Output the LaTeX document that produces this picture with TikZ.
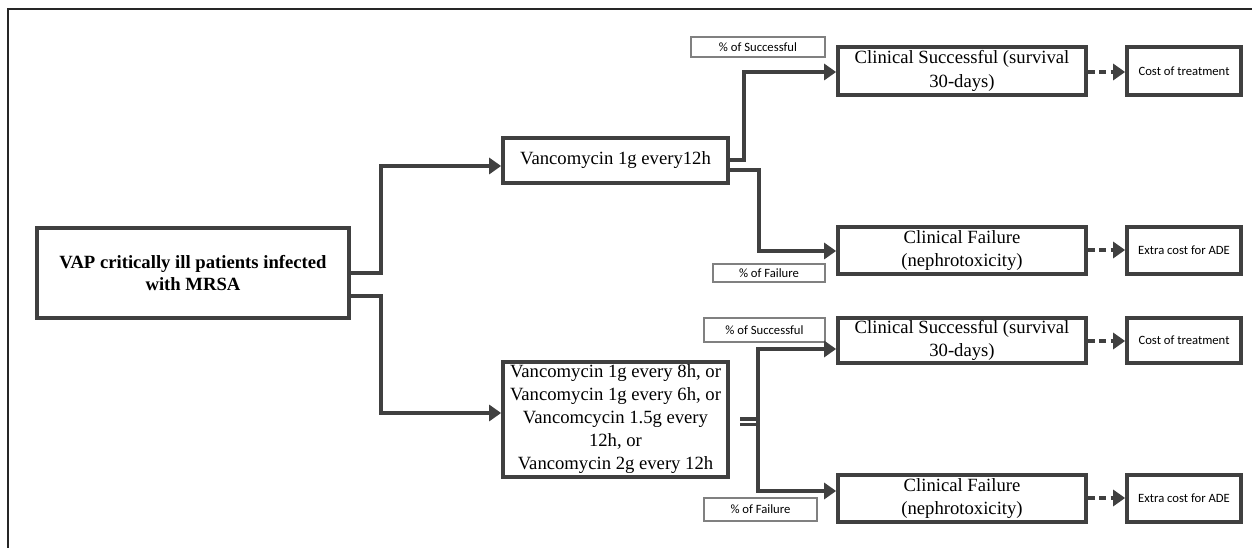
\documentclass[tikz,border=0pt]{standalone}
\usepackage{fontspec}
\setmainfont{Liberation Serif}
\newfontfamily\labfont{Carlito}
\usetikzlibrary{arrows.meta}
\definecolor{ln}{HTML}{404040}
\definecolor{fr}{HTML}{262626}
\definecolor{lb}{HTML}{808080}
\tikzset{
  mainbox/.style={draw=ln, line width=2.8pt, inner sep=0pt, align=center,
    font=\fontsize{14}{17.5}\selectfont},
  costbox/.style={draw=ln, line width=2.8pt, inner sep=0pt, align=center,
    font=\labfont\fontsize{9.5}{11}\selectfont, minimum width=85.5pt},
  labbox/.style={draw=lb, line width=0.8pt, inner sep=0pt, align=center,
    font=\labfont\fontsize{9.5}{11}\selectfont},
  conn/.style={draw=ln, line width=2.8pt},
  arr/.style={conn, -{Triangle[length=9pt,width=12pt]}},
  darr/.style={conn, dash pattern=on 5pt off 3.5pt, -{Triangle[length=9pt,width=12pt]}}
}
\begin{document}
\begin{tikzpicture}[x=0.75pt,y=-0.75pt]
\useasboundingbox (0,0) rectangle (1252,548);
% outer frame
\draw[fr, line width=1.6pt] (8,548) -- (8,9) -- (1252,9);

% nodes
\node[mainbox, minimum width=234pt, minimum height=67pt, font=\bfseries\fontsize{14}{17}\selectfont] (root) at (193,273)
  {VAP critically ill patients infected\\with MRSA};
\node[mainbox, minimum width=168.75pt, minimum height=33.75pt] (v1) at (615.5,160.5) {Vancomycin 1g every12h};
\node[mainbox, minimum width=168.75pt, minimum height=86.25pt, font=\fontsize{14}{17.25}\selectfont] (v2) at (615.5,419.5)
  {Vancomycin 1g every 8h, or\\Vancomycin 1g every 6h, or\\Vancomcycin 1.5g every\\12h, or\\Vancomycin 2g every 12h};

\node[mainbox, minimum width=186pt, minimum height=36pt] (cs1) at (962,71) {Clinical Successful (survival\\30-days)};
\node[mainbox, minimum width=186pt, minimum height=35.25pt] (cf1) at (962,250.5) {Clinical Failure\\(nephrotoxicity)};
\node[mainbox, minimum width=186pt, minimum height=33.75pt] (cs2) at (962,340.5) {Clinical Successful (survival\\30-days)};
\node[mainbox, minimum width=186pt, minimum height=35.25pt] (cf2) at (962,498.5) {Clinical Failure\\(nephrotoxicity)};

\node[costbox, minimum height=36pt] (c1) at (1184,71) {Cost of treatment};
\node[costbox, minimum height=35.25pt] (e1) at (1184,250.5) {Extra cost for ADE};
\node[costbox, minimum height=33.75pt] (c2) at (1184,340.5) {Cost of treatment};
\node[costbox, minimum height=35.25pt] (e2) at (1184,498.5) {Extra cost for ADE};

\node[labbox, minimum width=100.5pt, minimum height=15pt] (l1) at (758,47) {\% of Successful};
\node[labbox, minimum width=84pt, minimum height=13.5pt] (l2) at (769,273) {\% of Failure};
\node[labbox, minimum width=90.75pt, minimum height=18pt] (l3) at (764.5,330) {\% of Successful};
\node[labbox, minimum width=84.75pt, minimum height=17.25pt] (l4) at (760.5,509.5) {\% of Failure};

% connectors root
\draw[arr] (root.east |- 0,273) -- (381,273) -- (381,166) -- (v1.west |- 0,166);
\draw[arr] (root.east |- 0,296) -- (381,296) -- (381,413) -- (v2.west |- 0,413);
% connectors v1
\draw[arr] (v1.east |- 0,160) -- (744,160) -- (744,72) -- (cs1.west |- 0,72);
\draw[arr] (v1.east |- 0,170) -- (759,170) -- (759,251) -- (cf1.west |- 0,251);
% connectors v2
\coordinate (s1) at (740,419);
\coordinate (s2) at (740,424.5);
\draw[conn] (s1) -- (758,419);
\draw[conn] (s2) -- (758,424.5);
\draw[arr] (758,424.5) -- (758,349) -- (cs2.west |- 0,349);
\draw[arr] (758,419) -- (758,491) -- (cf2.west |- 0,491);
% dashed to cost
\draw[darr] (cs1.east |- 0,72) -- (c1.west |- 0,72);
\draw[darr] (cf1.east |- 0,250) -- (e1.west |- 0,250);
\draw[darr] (cs2.east |- 0,341) -- (c2.west |- 0,341);
\draw[darr] (cf2.east |- 0,498) -- (e2.west |- 0,498);
\end{tikzpicture}
\end{document}
